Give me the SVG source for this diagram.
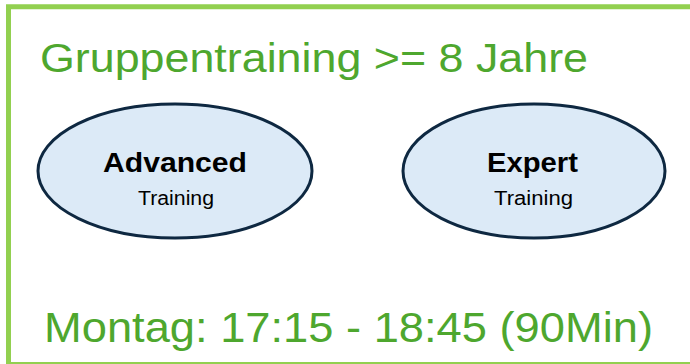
<svg xmlns="http://www.w3.org/2000/svg" width="690" height="364" viewBox="0 0 690 364">
  <style>
    .frame { fill: #FFFFFF; stroke: #92D050; }
    .head { font-family: "Liberation Sans", Arial, sans-serif; fill: #4EA72E; }
    .node { fill: #DCEAF7; stroke: #0E2841; stroke-width: 3; }
    .t1 { font-family: "Liberation Sans", Arial, sans-serif; font-weight: bold; font-size: 27px; fill: #000000; text-anchor: middle; }
    .t2 { font-family: "Liberation Sans", Arial, sans-serif; font-size: 20px; fill: #000000; text-anchor: middle; }
  </style>
  <rect x="0" y="0" width="690" height="364" fill="#FFFFFF"/>
  <path class="frame" d="M8.5 364 L8.5 6.8 L692 6.8" stroke-width="5" fill="none"/>
  <line x1="8" y1="363" x2="690" y2="363" stroke="#92D050" stroke-width="2"/>
  <text class="head" x="40" y="72" font-size="40" textLength="548" lengthAdjust="spacingAndGlyphs">Gruppentraining &gt;= 8 Jahre</text>
  <text class="head" x="44" y="342" font-size="43" textLength="609" lengthAdjust="spacingAndGlyphs">Montag: 17:15 - 18:45 (90Min)</text>
  <g id="connectors"></g>
  <g id="advanced">
    <ellipse class="node" cx="175" cy="171" rx="137" ry="67"/>
    <text class="t1" x="175" y="172" textLength="144" lengthAdjust="spacingAndGlyphs">Advanced</text>
    <text class="t2" x="176" y="205" textLength="76" lengthAdjust="spacingAndGlyphs">Training</text>
  </g>
  <g id="expert">
    <ellipse class="node" cx="534" cy="171" rx="131" ry="67"/>
    <text class="t1" x="532.5" y="172" textLength="91" lengthAdjust="spacingAndGlyphs">Expert</text>
    <text class="t2" x="533.5" y="205" textLength="79" lengthAdjust="spacingAndGlyphs">Training</text>
  </g>
</svg>
